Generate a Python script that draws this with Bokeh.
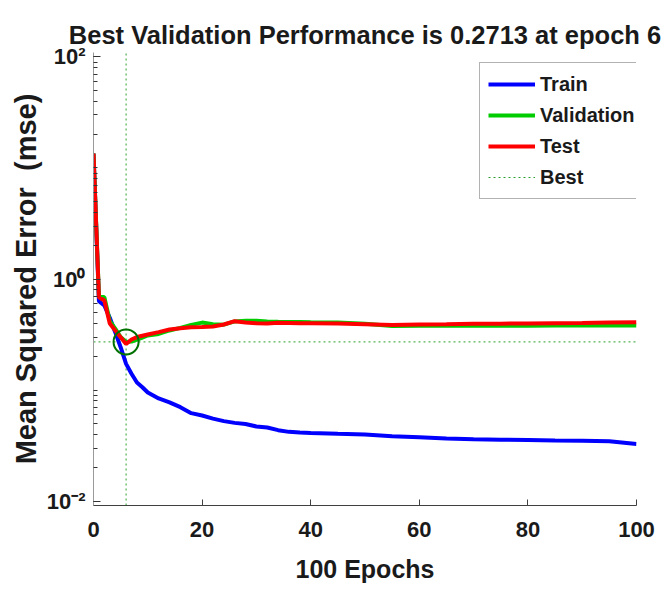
from bokeh.plotting import figure
from bokeh.models import Range1d, FixedTicker, Legend, LegendItem
from bokeh.embed import file_html
from bokeh.resources import INLINE

# ---- data ----
epochs = [0, 1, 2, 3, 4, 5, 6, 7, 8, 9, 10, 12, 14, 16, 18, 20, 22, 24, 26, 28,
          30, 32, 34, 36, 38, 40, 45, 50, 55, 60, 65, 70, 75, 80, 85, 90, 95, 100]
train = [13.5, 0.63, 0.577, 0.447, 0.332, 0.243, 0.172, 0.14, 0.117, 0.106, 0.095,
         0.084, 0.0775, 0.0701, 0.0619, 0.059, 0.0553, 0.0525, 0.0506, 0.0495,
         0.047, 0.046, 0.0435, 0.042, 0.0414, 0.041, 0.0403, 0.0397, 0.0384,
         0.0376, 0.0366, 0.036, 0.0357, 0.0354, 0.0351, 0.0349, 0.0346, 0.0327]
validation = [13.5, 0.70, 0.686, 0.42, 0.358, 0.30, 0.2713, 0.273, 0.284, 0.297, 0.31,
              0.32, 0.344, 0.363, 0.386, 0.405, 0.392, 0.388, 0.415, 0.42,
              0.42, 0.415, 0.412, 0.41, 0.41, 0.408, 0.405, 0.395, 0.378,
              0.38, 0.38, 0.381, 0.38, 0.38, 0.381, 0.381, 0.381, 0.381]
test = [13.5, 0.686, 0.64, 0.397, 0.344, 0.299, 0.26, 0.285, 0.30, 0.308, 0.316,
        0.332, 0.351, 0.36, 0.368, 0.37, 0.373, 0.389, 0.417, 0.405,
        0.40, 0.398, 0.403, 0.402, 0.40, 0.40, 0.398, 0.392, 0.385,
        0.39, 0.392, 0.395, 0.396, 0.398, 0.40, 0.402, 0.405, 0.408]
best_epoch = 6
best_value = 0.2713
x_ticks = [0, 20, 40, 60, 80, 100]
y_ticks = [0.01, 1, 100]
y_tick_labels = ["10\u207b\u00b2", "10\u2070", "10\u00b2"]
title_text = "Best Validation Performance is 0.2713 at epoch 6"
x_label = "100 Epochs"
y_label = "Mean Squared Error \u00a0(mse)"

FONT = "Liberation Sans"
TXT = "#1a1a1a"

y_lo, y_hi = 10 ** -2.04, 10 ** 2.04

p = figure(width=665, height=590, y_axis_type="log", output_backend="svg",
           toolbar_location=None, x_range=Range1d(0, 100), y_range=Range1d(y_lo, y_hi),
           min_border_left=93, min_border_right=29, min_border_top=52, min_border_bottom=85)
p.outline_line_color = None
p.xgrid.visible = False
p.ygrid.visible = False
p.background_fill_color = "white"
p.border_fill_color = "white"

p.title.text = title_text
p.title.align = "center"
p.title.text_font = FONT
p.title.text_font_style = "bold"
p.title.text_font_size = "25.5px"
p.title.text_color = TXT
p.title.standoff = 8

# x axis
xa = p.xaxis[0]
xa.ticker = FixedTicker(ticks=x_ticks)
xa.axis_line_color = "#404040"
xa.major_tick_line_color = "#404040"
xa.major_tick_in = 6
xa.major_tick_out = 0
xa.minor_tick_line_color = None
xa.major_label_text_font = FONT
xa.major_label_text_font_style = "bold"
xa.major_label_text_font_size = "22px"
xa.major_label_text_color = TXT
xa.major_label_standoff = 16
xa.axis_label = x_label
xa.axis_label_text_font = FONT
xa.axis_label_text_font_style = "bold"
xa.axis_label_text_font_size = "25px"
xa.axis_label_text_color = TXT
xa.axis_label_standoff = 15

# y axis
minor = [m * 10 ** k for k in range(-3, 3) for m in range(1, 10)]
ya = p.yaxis[0]
ya.ticker = FixedTicker(ticks=y_ticks, minor_ticks=minor)
ya.axis_line_color = "#9a9a9a"
ya.major_tick_line_color = "#333333"
ya.minor_tick_line_color = "#333333"
ya.major_tick_in = 7
ya.major_tick_out = 0
ya.minor_tick_in = 4
ya.minor_tick_out = 0
ya.major_label_overrides = {t: lab for t, lab in zip(y_ticks, y_tick_labels)}
ya.major_label_text_font = FONT
ya.major_label_text_font_style = "bold"
ya.major_label_text_font_size = "22px"
ya.major_label_text_color = TXT
ya.major_label_standoff = 8
ya.axis_label = y_label
ya.axis_label_text_font = FONT
ya.axis_label_text_font_style = "bold"
ya.axis_label_text_font_size = "29px"
ya.axis_label_text_color = TXT
ya.axis_label_standoff = 2

# best lines
best_col = "#2ca02c"
r_best = p.line([0, 100], [best_value, best_value], line_color=best_col,
                line_width=1, line_dash="2 3")
p.line([best_epoch, best_epoch], [y_lo, y_hi], line_color=best_col,
       line_width=1, line_dash="2 3")

r_train = p.line(epochs, train, line_color="#0000ff", line_width=4)
r_val = p.line(epochs, validation, line_color="#00cc00", line_width=4)
r_test = p.line(epochs, test, line_color="#ff0000", line_width=4)

p.scatter([best_epoch], [best_value], marker="circle", size=25, fill_color=None,
          line_color="#007000", line_width=2)

legend = Legend(items=[LegendItem(label="Train", renderers=[r_train]),
                       LegendItem(label="Validation", renderers=[r_val]),
                       LegendItem(label="Test", renderers=[r_test]),
                       LegendItem(label="Best", renderers=[r_best])],
                location=(386, 306))
legend.label_text_font = FONT
legend.label_text_font_style = "bold"
legend.label_text_font_size = "20px"
legend.label_text_color = TXT
legend.glyph_width = 47
legend.glyph_height = 26
legend.label_height = 26
legend.spacing = 5
legend.padding = 8
legend.margin = 0
legend.label_standoff = 5
legend.border_line_color = "#666666"
legend.border_line_width = 1
legend.background_fill_color = "white"
legend.background_fill_alpha = 1.0
p.add_layout(legend)

open("out.html", "w").write(file_html(p, INLINE))
